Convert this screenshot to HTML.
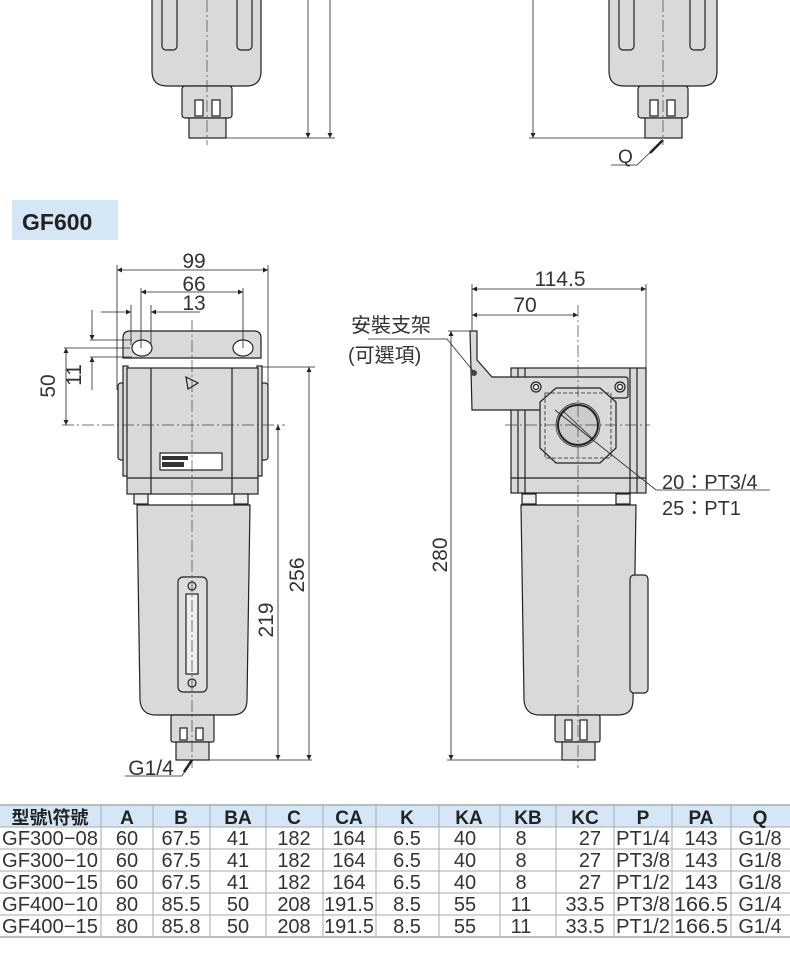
<!DOCTYPE html>
<html><head><meta charset="utf-8"><style>
html,body{margin:0;padding:0;background:#fff;}
svg{display:block;font-family:"Liberation Sans","Noto Sans CJK TC",sans-serif;}
</style></head><body>
<svg width="790" height="958" viewBox="0 0 790 958" xmlns="http://www.w3.org/2000/svg">
<defs>
<marker id="a" viewBox="0 0 10 10" refX="10" refY="5" markerWidth="9" markerHeight="5" orient="auto-start-reverse" markerUnits="userSpaceOnUse"><path d="M0,0 L10,5 L0,10 z" fill="#222"/></marker>
</defs>
<g stroke="#222" stroke-width="1.2" fill="#d9d9d9">
<path d="M152,0 V71 Q152,86 167,86 H246 Q261,86 261,71 V0"/>
<rect x="162" y="-5" width="15" height="55" rx="4" fill="none"/>
<rect x="237" y="-5" width="15" height="55" rx="4" fill="none"/>
<rect x="182" y="86" width="50" height="32" rx="3"/>
<rect x="195" y="100" width="8" height="16" fill="#fff"/><rect x="212" y="100" width="8" height="16" fill="#fff"/>
<rect x="189" y="118" width="37" height="20"/>
<path d="M609,0 V71 Q609,86 624,86 H702 Q717,86 717,71 V0"/>
<rect x="619" y="-5" width="15" height="55" rx="4" fill="none"/>
<rect x="690" y="-5" width="15" height="55" rx="4" fill="none"/>
<rect x="638" y="86" width="50" height="32" rx="3"/>
<rect x="650" y="100" width="8" height="16" fill="#fff"/><rect x="667" y="100" width="8" height="16" fill="#fff"/>
<rect x="645" y="118" width="37" height="20"/>
</g>
<g stroke="#222" stroke-width="0.8" fill="none">
<line x1="308" y1="0" x2="308" y2="138" marker-end="url(#a)"/>
<line x1="330" y1="0" x2="330" y2="138" marker-end="url(#a)"/>
<line x1="226" y1="138" x2="335" y2="138"/>
<line x1="533" y1="0" x2="533" y2="138" marker-end="url(#a)"/>
<line x1="529" y1="138" x2="645" y2="138"/>
<polyline points="611,165 637,165 663,140"/>
</g>
<line x1="650" y1="153" x2="663" y2="140" stroke="#222" stroke-width="2.5"/>
<text x="618" y="163" font-size="19" fill="#333">Q</text>
<line x1="207" y1="0" x2="207" y2="145" stroke="#444" stroke-width="0.7" stroke-dasharray="12,3,2,3"/>
<line x1="663" y1="0" x2="663" y2="145" stroke="#444" stroke-width="0.7" stroke-dasharray="12,3,2,3"/>

<rect x="12" y="200" width="106" height="40" fill="#d5e6f6"/>
<text x="22" y="230" font-size="23" font-weight="bold" fill="#222">GF600</text>

<g stroke="#222" stroke-width="1.2" fill="#d9d9d9">
<path d="M137,505 L140,700 Q141,715 156,715 H232 Q247,715 247,700 L250,505 Z"/>
<rect x="178" y="577" width="29" height="115" rx="5" fill="#ddd"/>
<rect x="186" y="594" width="12" height="80" fill="#eee"/>
<circle cx="192" cy="586" r="4"/><circle cx="192" cy="683" r="4"/>
<rect x="171" y="715" width="43" height="27" rx="2"/>
<rect x="180" y="728" width="7" height="12" fill="#fff"/><rect x="196" y="728" width="7" height="12" fill="#fff"/>
<rect x="176" y="742" width="33" height="18"/>
<path d="M123,338 Q123,331 130,331 H254 Q261,331 261,338 V358 H123 Z"/>
<ellipse cx="142" cy="348" rx="10" ry="8" fill="#fff"/>
<ellipse cx="243" cy="348" rx="10" ry="8" fill="#fff"/>
<rect x="118" y="383" width="9" height="77" rx="3"/>
<rect x="258" y="383" width="10" height="77" rx="3"/>
<rect x="123" y="366" width="5" height="110"/><rect x="257" y="366" width="5" height="110"/>
<rect x="127" y="368" width="131" height="126"/>
<line x1="151" y1="368" x2="151" y2="494"/><line x1="232" y1="368" x2="232" y2="494"/>
<line x1="127" y1="478" x2="258" y2="478"/>
<path d="M186,377 L198,383 L188,389 Z" fill="none"/>
<rect x="160" y="453" width="62" height="17" fill="#fff"/>
<rect x="134" y="494" width="14" height="10" fill="#eee"/><rect x="234" y="494" width="14" height="10" fill="#eee"/>
</g>
<rect x="162" y="456" width="26" height="4" fill="#333"/><rect x="162" y="462" width="22" height="5" fill="#333"/>
<line x1="192" y1="320" x2="192" y2="768" stroke="#444" stroke-width="0.7" stroke-dasharray="12,3,2,3"/>
<line x1="62" y1="425" x2="285" y2="425" stroke="#444" stroke-width="0.7" stroke-dasharray="12,3,2,3"/>
<g stroke="#222" stroke-width="0.8" fill="none">
<line x1="117" y1="265" x2="117" y2="390"/><line x1="268" y1="265" x2="268" y2="400"/>
<line x1="117" y1="270" x2="268" y2="270" marker-start="url(#a)" marker-end="url(#a)"/>
<line x1="141" y1="288" x2="141" y2="348"/><line x1="243" y1="288" x2="243" y2="348"/>
<line x1="141" y1="292" x2="243" y2="292" marker-start="url(#a)" marker-end="url(#a)"/>
<line x1="131" y1="305" x2="131" y2="345"/><line x1="151" y1="305" x2="151" y2="345"/>
<line x1="101" y1="312" x2="131" y2="312" marker-end="url(#a)"/>
<line x1="200" y1="312" x2="151" y2="312" marker-end="url(#a)"/>
<line x1="90" y1="340" x2="132" y2="340"/><line x1="90" y1="357" x2="132" y2="357"/>
<line x1="92" y1="310" x2="92" y2="340" marker-end="url(#a)"/>
<line x1="92" y1="390" x2="92" y2="357" marker-end="url(#a)"/>
<line x1="64" y1="348" x2="130" y2="348"/>
<line x1="66" y1="348" x2="66" y2="425" marker-start="url(#a)" marker-end="url(#a)"/>
<line x1="262" y1="367" x2="315" y2="367"/>
<line x1="309" y1="367" x2="309" y2="760" marker-start="url(#a)" marker-end="url(#a)"/>
<line x1="278" y1="425" x2="278" y2="760" marker-start="url(#a)" marker-end="url(#a)"/>
<line x1="209" y1="760" x2="312" y2="760"/>
<polyline points="125,776 182,776 192,760"/>
</g>
<line x1="184" y1="772" x2="192" y2="760" stroke="#222" stroke-width="2.5"/>
<g font-size="21" fill="#333" text-anchor="middle">
<text x="194" y="268">99</text>
<text x="194" y="291">66</text>
<text x="194" y="310">13</text>
<text transform="translate(81,375) rotate(-90)">11</text>
<text transform="translate(55,386) rotate(-90)">50</text>
<text transform="translate(304,575) rotate(-90)">256</text>
<text transform="translate(273,620) rotate(-90)">219</text>
<text transform="translate(447,555) rotate(-90)">280</text>
<text x="151" y="775">G1/4</text>
<text x="560" y="286">114.5</text>
<text x="525" y="312">70</text>
</g>

<g stroke="#222" stroke-width="1.2" fill="#d9d9d9">
<path d="M521,505 L524,700 Q525,715 540,715 H618 Q633,715 633,700 L636,505 Z"/>
<rect x="630" y="575" width="18" height="118" rx="4"/>
<rect x="555" y="715" width="45" height="27" rx="2"/>
<rect x="565" y="720" width="7" height="20" fill="#fff"/><rect x="580" y="720" width="7" height="20" fill="#fff"/>
<rect x="562" y="742" width="33" height="18"/>
<rect x="511" y="368" width="135" height="125"/>
<line x1="518" y1="368" x2="518" y2="493"/><line x1="525" y1="368" x2="525" y2="493"/>
<line x1="630" y1="368" x2="630" y2="493"/><line x1="637" y1="368" x2="637" y2="493"/>
<line x1="511" y1="478" x2="646" y2="478"/>
<path d="M470,331 H477 V360 L492,377 H625 Q628,377 628,380 V396 Q628,398 625,398 H573 L557,410 H472 Z"/>
<path d="M556,388 H600 L616,402 V448 L600,463 H556 L540,448 V402 Z"/>
<rect x="545" y="393" width="66" height="65" fill="none" stroke-dasharray="4,2" stroke-width="0.8"/>
<circle cx="578" cy="425" r="22" fill="none" stroke-width="0.7"/>
<circle cx="578" cy="425" r="20" fill="#ccc" stroke-width="2"/>
<circle cx="536" cy="387" r="5"/><circle cx="536" cy="387" r="2.5" fill="#fff"/>
<circle cx="620" cy="387" r="5"/><circle cx="620" cy="387" r="2.5" fill="#fff"/>
<rect x="522" y="494" width="14" height="10" fill="#eee"/><rect x="616" y="494" width="14" height="10" fill="#eee"/>
</g>
<circle cx="474" cy="373" r="3" fill="#444"/>
<line x1="578" y1="305" x2="578" y2="768" stroke="#444" stroke-width="0.7" stroke-dasharray="12,3,2,3"/>
<line x1="505" y1="425" x2="650" y2="425" stroke="#444" stroke-width="0.7" stroke-dasharray="12,3,2,3"/>
<g stroke="#222" stroke-width="0.8" fill="none">
<line x1="472" y1="284" x2="472" y2="330"/><line x1="646" y1="284" x2="646" y2="368"/>
<line x1="472" y1="289" x2="646" y2="289" marker-start="url(#a)" marker-end="url(#a)"/>
<line x1="472" y1="315" x2="578" y2="315" marker-start="url(#a)" marker-end="url(#a)"/>
<line x1="448" y1="331" x2="470" y2="331"/>
<line x1="451" y1="331" x2="451" y2="760" marker-start="url(#a)" marker-end="url(#a)"/>
<line x1="447" y1="760" x2="565" y2="760"/>
<polyline points="368,339 447,339 474,372"/>
<polyline points="555,410 656,490 770,490"/>
<line x1="563" y1="411" x2="593" y2="439"/>
</g>
<g font-size="20" fill="#333">
<text x="351" y="332">安裝支架</text>
<text x="348" y="362">(可選項)</text>
<text x="662" y="489">20：PT3/4</text>
<text x="662" y="515">25：PT1</text>
</g>

<rect x="0" y="805" width="790" height="22" fill="#d5e6f6"/>
<line x1="0" y1="805" x2="790" y2="805" stroke="#bbb" stroke-width="2"/>
<g stroke="#aaa" stroke-width="1">
<line x1="0" y1="827" x2="790" y2="827"/><line x1="0" y1="849" x2="790" y2="849"/>
<line x1="0" y1="871" x2="790" y2="871"/><line x1="0" y1="893" x2="790" y2="893"/>
<line x1="0" y1="915" x2="790" y2="915"/>
<line x1="101" y1="805" x2="101" y2="937"/><line x1="153" y1="805" x2="153" y2="937"/>
<line x1="210" y1="805" x2="210" y2="937"/><line x1="266" y1="805" x2="266" y2="937"/>
<line x1="323" y1="805" x2="323" y2="937"/><line x1="376" y1="805" x2="376" y2="937"/>
<line x1="439" y1="805" x2="439" y2="937"/><line x1="500" y1="805" x2="500" y2="937"/>
<line x1="556" y1="805" x2="556" y2="937"/><line x1="614" y1="805" x2="614" y2="937"/>
<line x1="672" y1="805" x2="672" y2="937"/><line x1="731" y1="805" x2="731" y2="937"/>
</g>
<line x1="0" y1="937" x2="790" y2="937" stroke="#bbb" stroke-width="2"/>
<g font-size="19" font-weight="bold" fill="#222" text-anchor="middle">
<text x="50" y="824" font-size="18">型號\符號</text><text x="127" y="824">A</text><text x="181" y="824">B</text>
<text x="238" y="824">BA</text><text x="294" y="824">C</text><text x="349" y="824">CA</text>
<text x="407" y="824">K</text><text x="469" y="824">KA</text><text x="528" y="824">KB</text>
<text x="585" y="824">KC</text><text x="643" y="824">P</text><text x="701" y="824">PA</text><text x="760" y="824">Q</text>
</g>
<g font-size="20" fill="#333" text-anchor="middle">
<g transform="translate(0,845)"><text x="50" textLength="96" lengthAdjust="spacingAndGlyphs">GF300−08</text><text x="127">60</text><text x="181">67.5</text><text x="238">41</text><text x="294">182</text><text x="349">164</text><text x="407">6.5</text><text x="465">40</text><text x="521">8</text><text x="590">27</text><text x="643" textLength="54" lengthAdjust="spacingAndGlyphs">PT1/4</text><text x="701">143</text><text x="760">G1/8</text></g>
<g transform="translate(0,867)"><text x="50" textLength="96" lengthAdjust="spacingAndGlyphs">GF300−10</text><text x="127">60</text><text x="181">67.5</text><text x="238">41</text><text x="294">182</text><text x="349">164</text><text x="407">6.5</text><text x="465">40</text><text x="521">8</text><text x="590">27</text><text x="643" textLength="54" lengthAdjust="spacingAndGlyphs">PT3/8</text><text x="701">143</text><text x="760">G1/8</text></g>
<g transform="translate(0,889)"><text x="50" textLength="96" lengthAdjust="spacingAndGlyphs">GF300−15</text><text x="127">60</text><text x="181">67.5</text><text x="238">41</text><text x="294">182</text><text x="349">164</text><text x="407">6.5</text><text x="465">40</text><text x="521">8</text><text x="590">27</text><text x="643" textLength="54" lengthAdjust="spacingAndGlyphs">PT1/2</text><text x="701">143</text><text x="760">G1/8</text></g>
<g transform="translate(0,911)"><text x="50" textLength="96" lengthAdjust="spacingAndGlyphs">GF400−10</text><text x="127">80</text><text x="181">85.5</text><text x="238">50</text><text x="294">208</text><text x="349" textLength="50" lengthAdjust="spacingAndGlyphs">191.5</text><text x="407">8.5</text><text x="465">55</text><text x="521">11</text><text x="585">33.5</text><text x="643" textLength="54" lengthAdjust="spacingAndGlyphs">PT3/8</text><text x="701" textLength="54" lengthAdjust="spacingAndGlyphs">166.5</text><text x="760">G1/4</text></g>
<g transform="translate(0,933)"><text x="50" textLength="96" lengthAdjust="spacingAndGlyphs">GF400−15</text><text x="127">80</text><text x="181">85.8</text><text x="238">50</text><text x="294">208</text><text x="349" textLength="50" lengthAdjust="spacingAndGlyphs">191.5</text><text x="407">8.5</text><text x="465">55</text><text x="521">11</text><text x="585">33.5</text><text x="643" textLength="54" lengthAdjust="spacingAndGlyphs">PT1/2</text><text x="701" textLength="54" lengthAdjust="spacingAndGlyphs">166.5</text><text x="760">G1/4</text></g>
</g>
</svg>
</body></html>
